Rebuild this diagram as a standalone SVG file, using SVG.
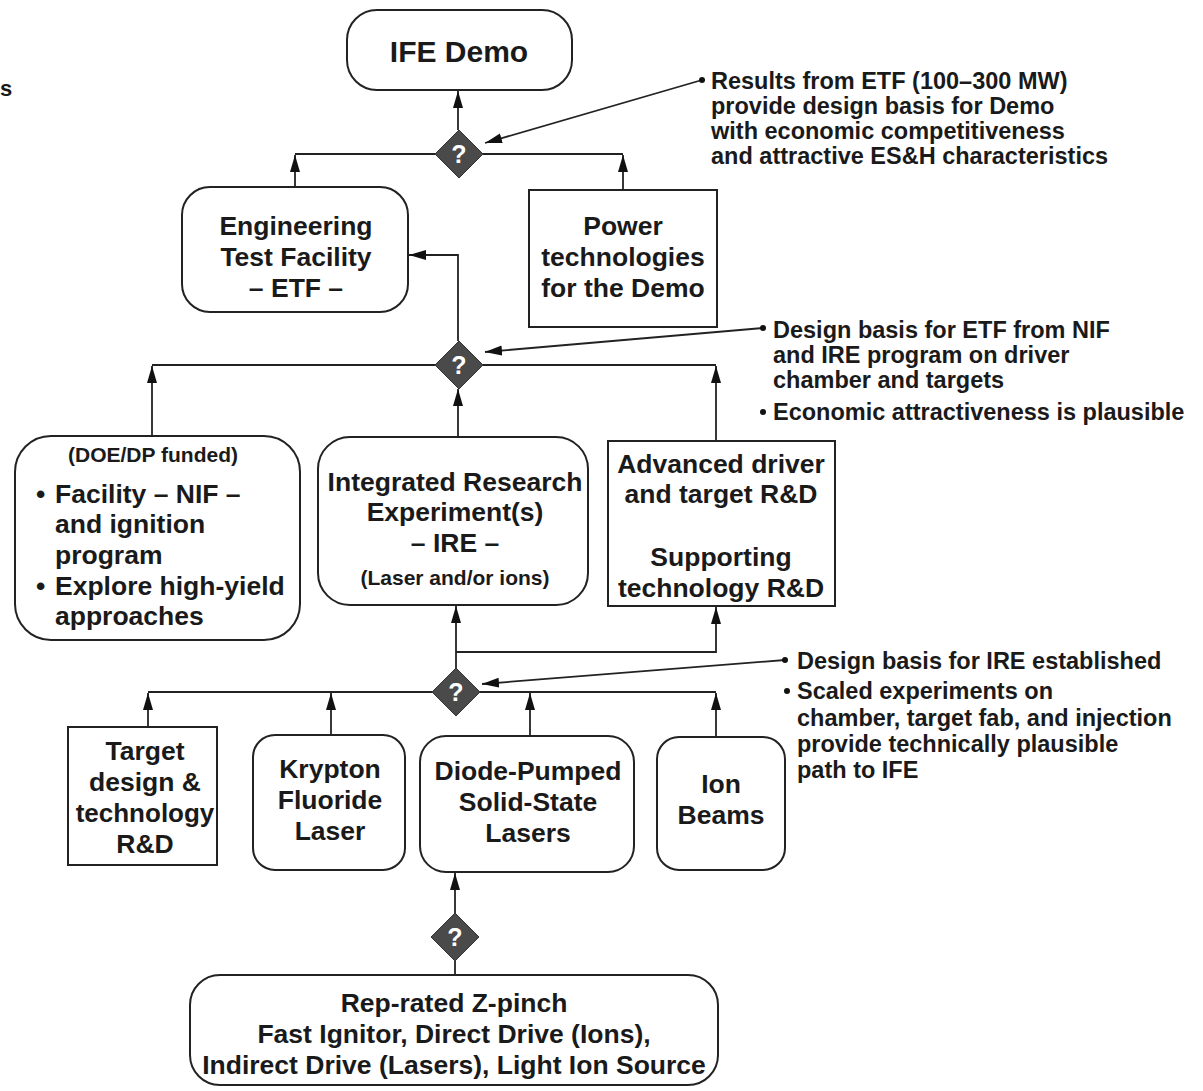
<svg xmlns="http://www.w3.org/2000/svg" width="1203" height="1091" viewBox="0 0 1203 1091">
<defs>
<style>
.box{fill:#fff;stroke:#222;stroke-width:2}
.t{font-family:"Liberation Sans",Arial,sans-serif;font-weight:bold;font-size:26.5px;fill:#1a1a1a;text-anchor:middle}
.s{font-size:21px}
.a{font-family:"Liberation Sans",Arial,sans-serif;font-weight:bold;font-size:23.5px;fill:#1a1a1a}
.c{fill:none;stroke:#222;stroke-width:1.8}
.d{fill:#4a4a4a;stroke:#333;stroke-width:1}
.q{font-family:"Liberation Sans",Arial,sans-serif;font-weight:bold;font-size:25px;fill:#fff;text-anchor:middle}
</style>
<marker id="ah" markerUnits="userSpaceOnUse" markerWidth="20" markerHeight="12" refX="17" refY="5" orient="auto">
<path d="M0,0 L17,5 L0,10 z" fill="#111"/>
</marker>
</defs>
<rect width="1203" height="1091" fill="#fff"/>
<text class="a" x="0" y="96" style="font-size:22px">s</text>

<g id="connectors">
<path class="c" d="M458,130 V91" marker-end="url(#ah)"/>
<path class="c" d="M295,154 H623"/>
<path class="c" d="M295,187 V155" marker-end="url(#ah)"/>
<path class="c" d="M623,190 V155" marker-end="url(#ah)"/>
<path class="c" d="M702,80 L485,143" marker-end="url(#ah)"/>
<path class="c" d="M458,341 V255 H409" marker-end="url(#ah)"/>
<path class="c" d="M152,365 H716"/>
<path class="c" d="M152,436 V366" marker-end="url(#ah)"/>
<path class="c" d="M458,437 V389" marker-end="url(#ah)"/>
<path class="c" d="M716,441 V366" marker-end="url(#ah)"/>
<path class="c" d="M763,328 L485,352" marker-end="url(#ah)"/>
<path class="c" d="M456,668 V606" marker-end="url(#ah)"/>
<path class="c" d="M456,652 H716 V607" marker-end="url(#ah)"/>
<path class="c" d="M148,692 H716"/>
<path class="c" d="M148,727 V693" marker-end="url(#ah)"/>
<path class="c" d="M331,735 V693" marker-end="url(#ah)"/>
<path class="c" d="M530,736 V693" marker-end="url(#ah)"/>
<path class="c" d="M716,737 V693" marker-end="url(#ah)"/>
<path class="c" d="M785,660 L482,684" marker-end="url(#ah)"/>
<path class="c" d="M455,913 V873" marker-end="url(#ah)"/>
<path class="c" d="M455,960 V975"/>
<circle cx="702" cy="80" r="3" fill="#111"/>
<circle cx="763" cy="328" r="3" fill="#111"/>
<circle cx="785" cy="660" r="3" fill="#111"/>
</g>

<g id="ife-demo">
<rect class="box" x="347" y="10" width="225" height="80" rx="30"/>
<text class="t" x="459" y="62" style="font-size:30px">IFE Demo</text>
</g>

<g id="decision-1">
<polygon class="d" points="459,130 483,154 459,178 435,154"/>
<text class="q" x="459" y="163">?</text>
</g>

<g id="note-1">
<text class="a" x="711" y="89">Results from ETF (100–300 MW)</text>
<text class="a" x="711" y="114">provide design basis for Demo</text>
<text class="a" x="711" y="139">with economic competitiveness</text>
<text class="a" x="711" y="164">and attractive ES&amp;H characteristics</text>
</g>

<g id="etf">
<rect class="box" x="182" y="187" width="226" height="125" rx="28"/>
<text class="t" x="296" y="235">Engineering</text>
<text class="t" x="296" y="266">Test Facility</text>
<text class="t" x="296" y="297">– ETF –</text>
</g>

<g id="power">
<rect class="box" x="529" y="190" width="188" height="137"/>
<text class="t" x="623" y="235">Power</text>
<text class="t" x="623" y="266">technologies</text>
<text class="t" x="623" y="297">for the Demo</text>
</g>

<g id="decision-2">
<polygon class="d" points="459,341 483,365 459,389 435,365"/>
<text class="q" x="459" y="374">?</text>
</g>

<g id="note-2">
<text class="a" x="773" y="338">Design basis for ETF from NIF</text>
<text class="a" x="773" y="363">and IRE program on driver</text>
<text class="a" x="773" y="388">chamber and targets</text>
<circle cx="763" cy="412" r="3" fill="#111"/>
<text class="a" x="773" y="420">Economic attractiveness is plausible</text>
</g>

<g id="nif">
<rect class="box" x="15" y="436" width="285" height="204" rx="36"/>
<text class="t s" x="153" y="462">(DOE/DP funded)</text>
<text class="t" x="36" y="503" style="text-anchor:start">•</text>
<text class="t" x="55" y="503" style="text-anchor:start">Facility – NIF –</text>
<text class="t" x="55" y="533" style="text-anchor:start">and ignition</text>
<text class="t" x="55" y="564" style="text-anchor:start">program</text>
<text class="t" x="36" y="595" style="text-anchor:start">•</text>
<text class="t" x="55" y="595" style="text-anchor:start">Explore high-yield</text>
<text class="t" x="55" y="625" style="text-anchor:start">approaches</text>
</g>

<g id="ire">
<rect class="box" x="318" y="437" width="270" height="168" rx="32"/>
<text class="t" x="455" y="491">Integrated Research</text>
<text class="t" x="455" y="521">Experiment(s)</text>
<text class="t" x="455" y="552">– IRE –</text>
<text class="t s" x="455" y="585">(Laser and/or ions)</text>
</g>

<g id="advanced">
<rect class="box" x="608" y="441" width="227" height="165"/>
<text class="t" x="721" y="473">Advanced driver</text>
<text class="t" x="721" y="503">and target R&amp;D</text>
<text class="t" x="721" y="566">Supporting</text>
<text class="t" x="721" y="597">technology R&amp;D</text>
</g>

<g id="decision-3">
<polygon class="d" points="456,668 480,692 456,716 432,692"/>
<text class="q" x="456" y="701">?</text>
</g>

<g id="note-3">
<text class="a" x="797" y="669">Design basis for IRE established</text>
<circle cx="787" cy="691" r="3" fill="#111"/>
<text class="a" x="797" y="699">Scaled experiments on</text>
<text class="a" x="797" y="726">chamber, target fab, and injection</text>
<text class="a" x="797" y="752">provide technically plausible</text>
<text class="a" x="797" y="778">path to IFE</text>
</g>

<g id="target">
<rect class="box" x="68" y="727" width="149" height="138"/>
<text class="t" x="145" y="760">Target</text>
<text class="t" x="145" y="791">design &amp;</text>
<text class="t" x="145" y="822" style="font-size:26px">technology</text>
<text class="t" x="145" y="853">R&amp;D</text>
</g>

<g id="krypton">
<rect class="box" x="253" y="735" width="152" height="135" rx="22"/>
<text class="t" x="330" y="778">Krypton</text>
<text class="t" x="330" y="809">Fluoride</text>
<text class="t" x="330" y="840">Laser</text>
</g>

<g id="diode">
<rect class="box" x="420" y="736" width="214" height="136" rx="26"/>
<text class="t" x="528" y="780">Diode-Pumped</text>
<text class="t" x="528" y="811">Solid-State</text>
<text class="t" x="528" y="842">Lasers</text>
</g>

<g id="ion">
<rect class="box" x="657" y="737" width="128" height="133" rx="22"/>
<text class="t" x="721" y="793">Ion</text>
<text class="t" x="721" y="824">Beams</text>
</g>

<g id="decision-4">
<polygon class="d" points="455,913 479,937 455,961 431,937"/>
<text class="q" x="455" y="946">?</text>
</g>

<g id="zpinch">
<rect class="box" x="190" y="975" width="528" height="110" rx="30"/>
<text class="t" x="454" y="1012">Rep-rated Z-pinch</text>
<text class="t" x="454" y="1043">Fast Ignitor, Direct Drive (Ions),</text>
<text class="t" x="454" y="1074">Indirect Drive (Lasers), Light Ion Source</text>
</g>
</svg>
